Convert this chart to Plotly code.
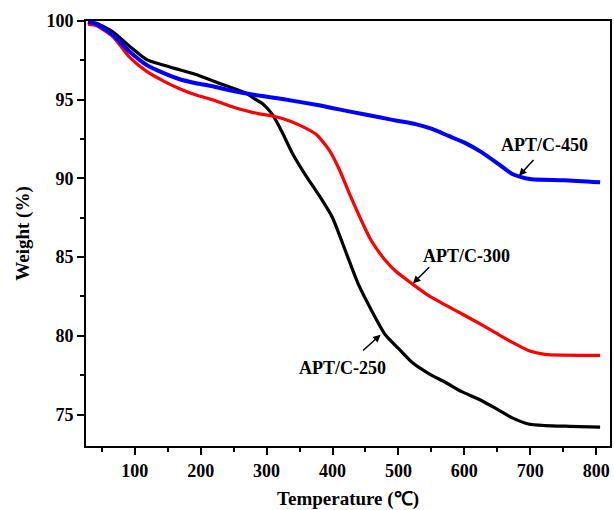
import plotly.graph_objects as go

# APT/C-250 (black)
t250 = [29, 42, 67, 92, 118, 143, 168, 193, 218, 244, 269, 284, 294, 309, 324, 339, 360, 380,
        400, 420, 440, 460, 480, 500, 521, 546, 571, 596, 622, 647, 672, 697, 722, 760, 806]
w250 = [99.95, 99.85, 99.3, 98.4, 97.55, 97.2, 96.9, 96.6, 96.2, 95.8, 95.4, 95.0, 94.75, 94.05,
        92.9, 91.6, 90.15, 88.9, 87.5, 85.35, 83.2, 81.55, 80.07, 79.2, 78.3, 77.6, 77.05, 76.45,
        75.97, 75.4, 74.8, 74.4, 74.3, 74.25, 74.2]

# APT/C-300 (red)
t300 = [29, 42, 67, 92, 118, 143, 168, 193, 218, 244, 269, 289, 304, 324, 349, 375, 395, 410,
        425, 443, 458, 480, 496, 521, 546, 571, 596, 622, 647, 672, 697, 722, 748, 806]
w300 = [99.8, 99.7, 99.0, 97.7, 96.8, 96.2, 95.7, 95.3, 95.0, 94.6, 94.3, 94.1, 94.0, 93.8,
        93.4, 92.8, 91.8, 90.6, 89.1, 87.4, 86.1, 84.8, 84.1, 83.3, 82.55, 81.96, 81.4, 80.8,
        80.2, 79.6, 79.07, 78.82, 78.77, 78.76]

# APT/C-450 (blue)
t450 = [29, 42, 67, 92, 118, 143, 168, 193, 218, 244, 274, 324, 375, 425, 475, 500, 526, 551,
        576, 601, 626, 652, 672, 685, 702, 752, 806]
w450 = [99.95, 99.8, 99.1, 98.06, 97.2, 96.7, 96.3, 96.05, 95.85, 95.6, 95.36, 95.04, 94.68,
        94.26, 93.85, 93.65, 93.45, 93.14, 92.7, 92.26, 91.67, 90.9, 90.3, 90.1, 89.94, 89.88, 89.75]

labels = ["APT/C-250", "APT/C-300", "APT/C-450"]
label_pos = [(415, 77.97), (604, 85.1), (722, 92.15)]
arrow_tail = [(444, 78.98), (549, 84.45), (707, 91.27)]
arrow_head = [(473, 80.07), (522, 83.33), (683, 90.17)]

FONT = "Liberation Serif"

fig = go.Figure()
fig.add_trace(go.Scatter(x=t250, y=w250, mode="lines", line=dict(color="black", width=3.2, shape="spline", smoothing=0.6), name=labels[0]))
fig.add_trace(go.Scatter(x=t300, y=w300, mode="lines", line=dict(color="#ff0000", width=3.2, shape="spline", smoothing=0.6), name=labels[1]))
fig.add_trace(go.Scatter(x=t450, y=w450, mode="lines", line=dict(color="#0000ff", width=4, shape="spline", smoothing=0.6), name=labels[2]))

for lab, (lx, ly), (tx, ty), (hx, hy) in zip(labels, label_pos, arrow_tail, arrow_head):
    fig.add_annotation(x=lx, y=ly, xref="x", yref="y", text=lab, showarrow=False,
                       font=dict(family=FONT, size=18, color="black", weight="bold"))
    fig.add_annotation(x=hx, y=hy, ax=tx, ay=ty, xref="x", yref="y", axref="x", ayref="y",
                       text="", showarrow=True, arrowhead=2, arrowsize=1, arrowwidth=1.5,
                       arrowcolor="black")

fig.update_layout(
    width=614, height=510,
    margin=dict(l=86, r=2, t=21, b=62),
    paper_bgcolor="white", plot_bgcolor="white",
    showlegend=False,
    font=dict(family=FONT, color="black"),
)
fig.update_xaxes(
    range=[26, 821], tickmode="array", tickvals=[100, 200, 300, 400, 500, 600, 700, 800],
    ticks="outside", ticklen=7, tickwidth=2, tickcolor="black",
    minor=dict(tickmode="array", tickvals=[50, 150, 250, 350, 450, 550, 650, 750],
               ticks="outside", ticklen=4, tickwidth=2, tickcolor="black"),
    showline=True, linewidth=2, linecolor="black", mirror=True,
    showgrid=False, zeroline=False,
    tickfont=dict(family=FONT, size=18, color="black", weight="bold"),
    title=dict(text="Temperature (℃)", font=dict(family=FONT, size=19, color="black", weight="bold"), standoff=14),
)
fig.update_yaxes(
    range=[73, 100], tickmode="array", tickvals=[75, 80, 85, 90, 95, 100],
    ticks="outside", ticklen=7, tickwidth=2, tickcolor="black",
    minor=dict(tickmode="array", tickvals=[77.5, 82.5, 87.5, 92.5, 97.5],
               ticks="outside", ticklen=4, tickwidth=2, tickcolor="black"),
    showline=True, linewidth=2, linecolor="black", mirror=True,
    showgrid=False, zeroline=False,
    tickfont=dict(family=FONT, size=18, color="black", weight="bold"),
    title=dict(text="Weight (%)", font=dict(family=FONT, size=19, color="black", weight="bold"), standoff=12),
)

fig.write_html("out.html")
